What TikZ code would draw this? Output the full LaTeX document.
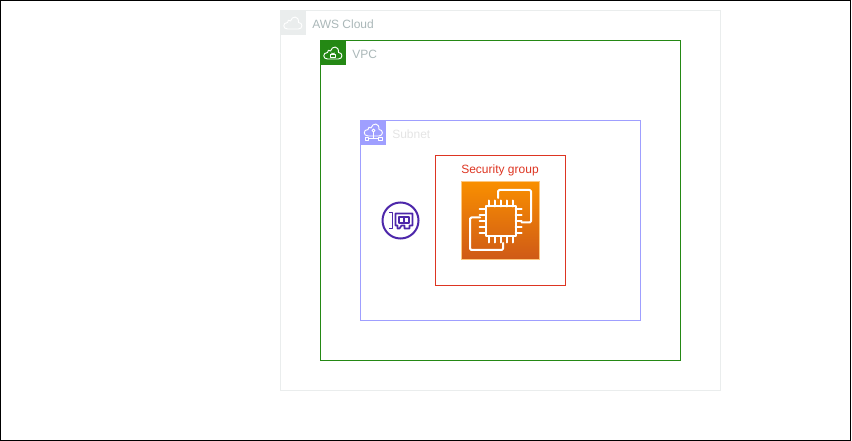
\documentclass[tikz,border=0pt]{standalone}
\usepackage{fontspec}
\setmainfont{Liberation Sans}
\usetikzlibrary{calc}

\definecolor{cloudgrey}{HTML}{EAEDED}
\definecolor{labelgrey}{HTML}{AAB7B8}
\definecolor{vpcgreen}{HTML}{248814}
\definecolor{subnetblue}{HTML}{9F9FFF}
\definecolor{subnetlabel}{HTML}{E4E4E4}
\definecolor{sgred}{HTML}{DD3522}
\definecolor{ecstop}{HTML}{F98F00}
\definecolor{ecsbot}{HTML}{CF5A17}
\definecolor{enipurple}{HTML}{4D27AA}

\tikzset{
  groupbox/.style={draw=#1, line width=0.75pt, inner sep=0pt, outer sep=0pt, anchor=north west},
  tagbox/.style={fill=#1, minimum size=18.75pt, inner sep=0pt, outer sep=0pt, anchor=north west},
  grouplabel/.style={text=#1, font=\fontsize{9pt}{10.5pt}\selectfont, inner sep=0pt, anchor=west},
  iconline/.style={draw=white, line width=0.7pt, line join=round, line cap=round},
  chipline/.style={draw=white, line width=1.5pt, line join=round, line cap=round},
}
% one cloud outline, centre at the origin, drawn in pixels
\newcommand{\cloudicon}{(-5.5,6) .. controls (-10.5,6) and (-10.5,-0.5) .. (-5.5,-0.5)
  .. controls (-6,-3) and (-3.5,-3.5) .. (-2.5,-2)
  .. controls (-1,-7.5) and (6,-7.5) .. (5.5,-0.5)
  .. controls (10,-0.5) and (10,6) .. (5.5,6) -- cycle}

\begin{document}
\begin{tikzpicture}[x=0.75pt, y=-0.75pt]

  \useasboundingbox (0,0) rectangle (852,441);
  \node[groupbox=black, minimum width=637.5pt, minimum height=330pt] (frame) at (0.5,0.5) {};

  % Groups
  \node[groupbox=cloudgrey, minimum width=330pt, minimum height=285pt] (cloud) at (280.5,10.5) {};
  \node[groupbox=vpcgreen, minimum width=270pt, minimum height=240pt] (vpc) at (320.5,40.5) {};
  \node[groupbox=subnetblue, minimum width=210pt, minimum height=150pt] (subnet) at (360.5,120.5) {};
  \node[groupbox=sgred, minimum width=97.5pt, minimum height=97.5pt] (sg) at (435.5,155.5) {};

  % Corner tags
  \node[tagbox=cloudgrey] (cloudtag) at (cloud.north west) {};
  \node[tagbox=vpcgreen] (vpctag) at (vpc.north west) {};
  \node[tagbox=subnetblue] (subnettag) at (subnet.north west) {};

  % Labels
  \node[grouplabel=labelgrey] (cloudlabel) at (312,24) {AWS Cloud};
  \node[grouplabel=labelgrey] (vpclabel) at (352,54) {VPC};
  \node[grouplabel=subnetlabel] (subnetlabel) at (392,134) {Subnet};
  \node[text=sgred, font=\fontsize{9pt}{10.5pt}\selectfont, inner sep=0pt] (sglabel) at (500,170) {Security group};

  % Tag icons
  \begin{scope}[shift={(293,23)}]
    \draw[iconline] \cloudicon;
  \end{scope}
  \begin{scope}[shift={(333,53)}]
    \draw[iconline] \cloudicon;
    \draw[iconline] (-2.5,1) rectangle (2.5,4.5);
    \draw[iconline] (-1.2,1) -- (-1.2,0) arc[start angle=180, end angle=0, radius=1.2] -- (1.2,1);
  \end{scope}
  \begin{scope}[shift={(373.5,130)}]
    \draw[iconline] \cloudicon;
    \draw[iconline] (0,0.5) circle (1.5);
    \draw[iconline] (0,2) -- (0,8.7) (-4.7,8.7) -- (5,8.7);
    \draw[iconline] (-8,7.3) rectangle (-4.7,10.7) (5,7.3) rectangle (8.5,10.7);
  \end{scope}

  % Network interface
  \node[draw=enipurple, line width=1.5pt, circle, minimum size=27pt, inner sep=0pt, outer sep=0pt] (eni) at (400.5,220.5) {};
  \begin{scope}[shift={(eni.center)}, draw=enipurple, line width=1.3pt, line join=round]
    \draw (-11.5,-8) -- (-8,-8) -- (-8,8) -- (-11.5,8);
    \draw (-5,-7) -- (12,-7) -- (12,5) -- (9,5) -- (9,8) -- (4,8) -- (4,5) -- (1,5) -- (-1,8) -- (-3,8) -- (-3,5) -- (-5,5) -- cycle;
    \draw (-1.5,-3.5) rectangle (8.5,2.5);
    \draw (3.5,-3.5) -- (3.5,2.5);
  \end{scope}

  % Instance icon
  \node[top color=ecstop, bottom color=ecsbot, draw=ecstop!50!white, line width=0.3pt, minimum size=58.5pt, inner sep=0pt, outer sep=0pt] (ec2) at (500.5,220.5) {};
  \begin{scope}[shift={(ec2.center)}]
    \draw[chipline] (-15,-14) rectangle (15,16);
    \foreach \pos in {-12,-6,0,6,12} {
      \draw[chipline] (\pos,-14) -- (\pos,-20) (\pos,16) -- (\pos,22);
      \draw[chipline] (-15,\pos+1) -- (-21,\pos+1) (15,\pos+1) -- (21,\pos+1);
    }
    \draw[chipline, rounded corners=1pt] (-2.5,-22.5) -- (-2.5,-30.5) -- (30.5,-30.5) -- (30.5,2) -- (21,2);
    \draw[chipline, rounded corners=1pt] (-20.5,-3) -- (-30.5,-3) -- (-30.5,29.5) -- (2.5,29.5) -- (2.5,22.5);
  \end{scope}

\end{tikzpicture}
\end{document}
